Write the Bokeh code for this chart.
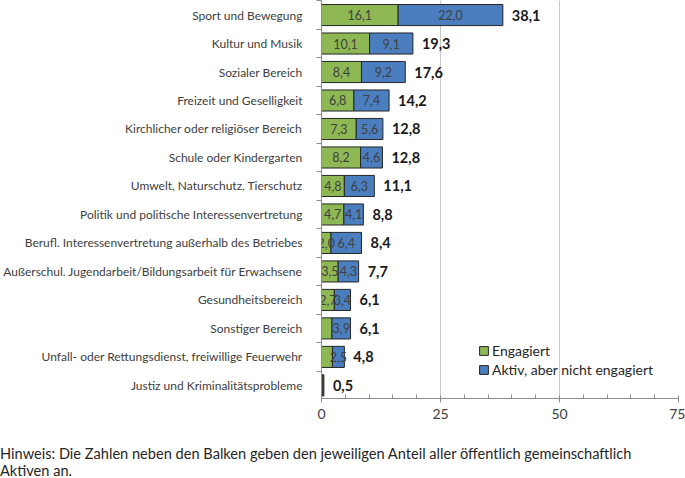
from bokeh.plotting import figure
from bokeh.models import ColumnDataSource, FixedTicker, Legend, LegendItem, Div
from bokeh.layouts import column
from bokeh.embed import file_html
from bokeh.resources import INLINE
from bokeh.core.properties import value

# ---- data (top to bottom as in the chart) ----
categories = [
    "Sport und Bewegung",
    "Kultur und Musik",
    "Sozialer Bereich",
    "Freizeit und Geselligkeit",
    "Kirchlicher oder religiöser Bereich",
    "Schule oder Kindergarten",
    "Umwelt, Naturschutz, Tierschutz",
    "Politik und politische Interessenvertretung",
    "Berufl. Interessenvertretung außerhalb des Betriebes",
    "Außerschul. Jugendarbeit/Bildungsarbeit für Erwachsene",
    "Gesundheitsbereich",
    "Sonstiger Bereich",
    "Unfall- oder Rettungsdienst, freiwillige Feuerwehr",
    "Justiz und Kriminalitätsprobleme",
]
engagiert = [16.1, 10.1, 8.4, 6.8, 7.3, 8.2, 4.8, 4.7, 2.0, 3.5, 2.7, 2.2, 2.3, 0.3]
aktiv = [22.0, 9.1, 9.2, 7.4, 5.6, 4.6, 6.3, 4.1, 6.4, 4.3, 3.4, 3.9, 2.5, 0.2]
totals = [38.1, 19.3, 17.6, 14.2, 12.8, 12.8, 11.1, 8.8, 8.4, 7.7, 6.1, 6.1, 4.8, 0.5]
show_engagiert_label = [True] * 11 + [False, False, False]
show_aktiv_label = [True] * 13 + [False]
series_names = ["Engagiert", "Aktiv, aber nicht engagiert"]
x_ticks = [0, 25, 50, 75]
x_minor_ticks = [5, 10, 15, 20, 30, 35, 40, 45, 55, 60, 65, 70]
hint_lines = [
    "Hinweis: Die Zahlen neben den Balken geben den jeweiligen Anteil aller öffentlich gemeinschaftlich",
    "Aktiven an.",
]

GREEN = "#8DB853"
BLUE = "#4A7EBF"
EDGE = "#262626"
TXT = "#404040"
FONT = "Lato"

def de(v):
    return f"{v:.1f}".replace(".", ",")

n = len(categories)
ypos = [n - 1 - i for i in range(n)]
ends = [e + a for e, a in zip(engagiert, aktiv)]

src = ColumnDataSource(dict(y=ypos, eng=engagiert, end=ends, tot=totals))

p = figure(width=685, height=442, output_backend="svg", toolbar_location=None,
           x_range=(0, 75), y_range=(-0.46, 13.51),
           min_border_left=321, min_border_right=7, min_border_top=0, min_border_bottom=44)
p.outline_line_color = None
p.background_fill_color = "white"

r1 = p.hbar(y="y", left=0, right="eng", height=0.74, source=src,
            fill_color=GREEN, line_color=EDGE, line_width=1)
r2 = p.hbar(y="y", left="eng", right="end", height=0.74, source=src,
            fill_color=BLUE, line_color=EDGE, line_width=1)

# segment labels
gl = dict(x=[], y=[], t=[])
for e, yy, s in zip(engagiert, ypos, show_engagiert_label):
    if s:
        gl["x"].append(e / 2); gl["y"].append(yy); gl["t"].append(de(e))
bl = dict(x=[], y=[], t=[])
for e, a, yy, s in zip(engagiert, aktiv, ypos, show_aktiv_label):
    if s:
        bl["x"].append(e + a / 2); bl["y"].append(yy); bl["t"].append(de(a))
for d in (gl, bl):
    p.text(x="x", y="y", text="t", source=ColumnDataSource(d), text_align="center",
           text_baseline="middle", text_font=value(FONT), text_font_size="12.5px",
           text_color=TXT)

# totals
tsrc = ColumnDataSource(dict(x=ends, y=ypos, t=[de(t) for t in totals]))
p.text(x="x", y="y", text="t", source=tsrc, x_offset=9, text_align="left",
       text_baseline="middle", text_font=value(FONT), text_font_size="14.5px",
       text_font_style="bold", text_color="#1a1a1a")

# axes
p.xaxis.ticker = FixedTicker(ticks=x_ticks, minor_ticks=x_minor_ticks)
p.xaxis.axis_line_color = "#8C8C8C"
p.xaxis.major_tick_line_color = "#8C8C8C"
p.xaxis.minor_tick_line_color = "#8C8C8C"
p.xaxis.major_tick_out = 4
p.xaxis.major_tick_in = 3
p.xaxis.minor_tick_out = 0
p.xaxis.minor_tick_in = 4
p.xaxis.major_label_standoff = 6
p.xaxis.major_label_text_font = FONT
p.xaxis.major_label_text_font_size = "14px"
p.xaxis.major_label_text_color = TXT

p.yaxis.ticker = FixedTicker(ticks=ypos, minor_ticks=[k + 0.5 for k in range(-1, n)])
p.yaxis.major_label_overrides = {yy: c for yy, c in zip(ypos, categories)}
p.yaxis.axis_line_color = "#8C8C8C"
p.yaxis.major_tick_line_color = None
p.yaxis.minor_tick_line_color = "#8C8C8C"
p.yaxis.minor_tick_out = 5
p.yaxis.minor_tick_in = 0
p.yaxis.major_tick_out = 0
p.yaxis.major_tick_in = 0
p.yaxis.major_label_standoff = 14
p.yaxis.major_label_text_font = FONT
p.yaxis.major_label_text_font_size = "12px"
p.yaxis.major_label_text_color = TXT

p.xgrid.ticker = FixedTicker(ticks=x_ticks)
p.xgrid.grid_line_color = "#C8C8C8"
p.ygrid.grid_line_color = None

legend = Legend(items=[LegendItem(label=series_names[0], renderers=[r1]),
                       LegendItem(label=series_names[1], renderers=[r2])],
                location=(157, 20), padding=0, margin=0, spacing=2,
                glyph_width=11, glyph_height=11, label_height=14, label_standoff=3,
                label_text_font=FONT, label_text_font_size="14px", label_text_color="#262626",
                background_fill_alpha=0, border_line_color=None)
p.add_layout(legend, "center")

hint = Div(text="<br>".join(hint_lines), width=685, height=36, margin=(0, 0, 0, 0),
           styles={"font-family": FONT, "font-size": "14.6px", "line-height": "17px",
                   "padding-top": "3px", "color": "#262626", "white-space": "nowrap"})

open("out.html", "w").write(file_html(column(p, hint, spacing=0), INLINE))
